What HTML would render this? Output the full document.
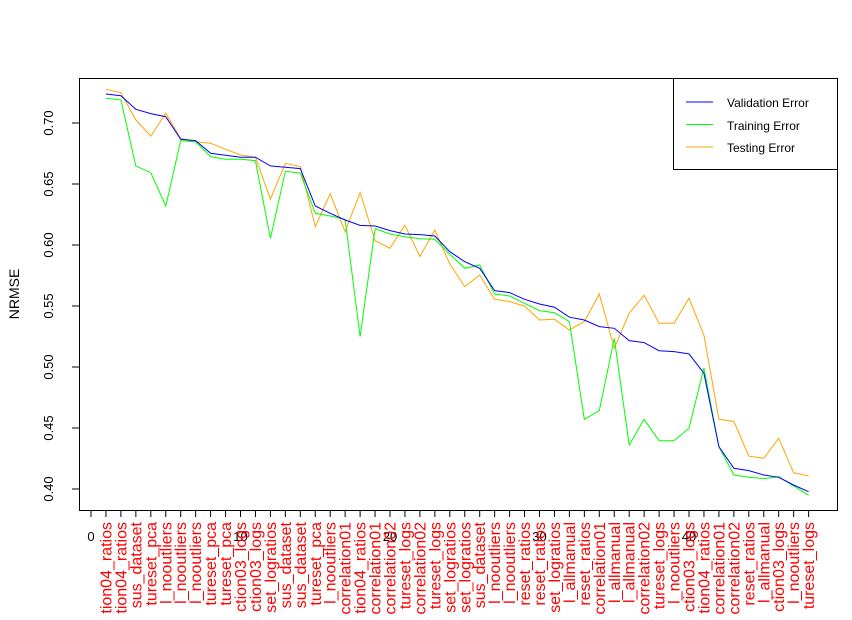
<!DOCTYPE html>
<html><head><meta charset="utf-8"><style>
html,body{margin:0;padding:0;background:#fff;width:852px;height:620px;overflow:hidden;}
svg{display:block;overflow:hidden;font-family:"Liberation Sans",Arial,sans-serif;}
</style></head><body>
<svg id="chart" width="852" height="620" viewBox="0 0 852 620" xmlns="http://www.w3.org/2000/svg">
<defs><clipPath id="frameClip"><rect x="0" y="0" width="852" height="620"/></clipPath></defs>
<rect x="0" y="0" width="852" height="620" fill="#fff"/>
<g id="series"></g>
<g id="axes"></g>
<g id="cats" clip-path="url(#frameClip)"></g>
<rect x="79.5" y="78.5" width="758" height="432" fill="none" stroke="#000" stroke-width="1"/>
<text transform="translate(19,294) rotate(-90)" text-anchor="middle" font-size="14">NRMSE</text>
<g>
<rect x="673.5" y="78.5" width="164" height="91" fill="#fff" stroke="#000"/>
<line x1="686" y1="102" x2="713" y2="102" stroke="#0000ff"/>
<text x="727" y="107" font-size="12">Validation Error</text>
<line x1="686" y1="124.5" x2="713" y2="124.5" stroke="#00ff00"/>
<text x="727" y="130" font-size="12">Training Error</text>
<line x1="686" y1="147" x2="713" y2="147" stroke="#ffa500"/>
<text x="727" y="152" font-size="12">Testing Error</text>
</g>
</svg>
<script>
const categories = ["tion04_ratios","tion04_ratios","sus_dataset","tureset_pca","l_nooutliers","l_nooutliers","l_nooutliers","tureset_pca","tureset_pca","ction03_logs","ction03_logs","set_logratios","sus_dataset","sus_dataset","tureset_pca","l_nooutliers","correlation01","tion04_ratios","correlation01","correlation02","tureset_logs","correlation02","tureset_logs","set_logratios","set_logratios","sus_dataset","l_nooutliers","l_nooutliers","reset_ratios","reset_ratios","set_logratios","l_allmanual","reset_ratios","correlation01","l_allmanual","l_allmanual","correlation02","tureset_logs","l_nooutliers","ction03_logs","tion04_ratios","correlation01","correlation02","reset_ratios","l_allmanual","ction03_logs","l_nooutliers","tureset_logs"];
const validation = [.7238,.7224,.7112,.7077,.7052,.6866,.6856,.6752,.6736,.672,.672,.6648,.6637,.6626,.632,.626,.6205,.6161,.6156,.6118,.609,.6085,.6074,.5945,.5863,.5809,.5626,.561,.5555,.5516,.549,.5408,.5385,.5331,.5317,.5216,.52,.5134,.5126,.5107,.4949,.4347,.417,.4151,.4115,.4096,.4033,.3978];
const training = [.7203,.7189,.6648,.6593,.632,.6856,.6845,.6725,.6703,.6703,.6692,.6055,.6604,.6589,.626,.6238,.621,.5249,.6134,.609,.6068,.6052,.6047,.5925,.5809,.5836,.5598,.5582,.5522,.5462,.5445,.5372,.4571,.4642,.5235,.4361,.4571,.4396,.4396,.4498,.4992,.4347,.4115,.4096,.4085,.4101,.4025,.3949];
const testing = [.7276,.7248,.7025,.6893,.708,.6874,.6845,.6834,.6785,.6738,.672,.6376,.667,.6642,.615,.642,.6109,.643,.6036,.5973,.6164,.5906,.6123,.5845,.5659,.5754,.5555,.5536,.55,.5385,.5391,.5303,.5372,.5598,.5154,.5441,.5588,.5359,.5359,.5563,.5262,.4571,.4553,.427,.4252,.4416,.4134,.4107];
const yTicks = ["0.40","0.45","0.50","0.55","0.60","0.65","0.70"];
const xTicks = ["0","10","20","30","40"];

const NS = "http://www.w3.org/2000/svg";
function xs(i){ return 91 + i*14.95; }
function ys(v){ return 489 - (v-0.40)/0.30*366; }
function mk(tag, attrs, parent){ const e=document.createElementNS(NS,tag); for(const k in attrs) e.setAttribute(k,attrs[k]); parent.appendChild(e); return e; }
const axes=document.getElementById('axes');
const cats=document.getElementById('cats');
const series=document.getElementById('series');

yTicks.forEach(t=>{
  const y=ys(parseFloat(t));
  const l=mk('line',{x1:72,y1:y,x2:79,y2:y,stroke:'#000'},axes);
  
  
  const tx=mk('text',{transform:`translate(53,${y}) rotate(-90)`,'text-anchor':'middle','font-size':'13'},axes);
  
  
  tx.textContent=t;
});
for(let i=0;i<=categories.length;i++){
  const l=mk('line',{x1:xs(i),y1:510,x2:xs(i),y2:517,stroke:'#000'},axes);
  
  
}
xTicks.forEach(t=>{
  const tx=mk('text',{x:xs(parseFloat(t)),y:541,'text-anchor':'middle','font-size':'13'},axes);
  
  
  tx.textContent=t;
});
categories.forEach((c,i)=>{
  const x=xs(i+1);
  const tx=mk('text',{transform:`translate(${x+5.5},522) rotate(-90)`,'text-anchor':'end','font-size':'16',fill:'#ff0000'},cats);
  
  
  tx.textContent=c;
});
function drawLine(vals,color,name){
  const pts=vals.map((v,i)=>xs(i+1).toFixed(1)+','+ys(v).toFixed(1)).join(' ');
  const p=mk('polyline',{points:pts,fill:'none',stroke:color,'stroke-width':1},series);
  
  
}
drawLine(testing,'#ffa500','testing-error-line');
drawLine(training,'#00ff00','training-error-line');
drawLine(validation,'#0000ff','validation-error-line');
</script>
</body></html>
